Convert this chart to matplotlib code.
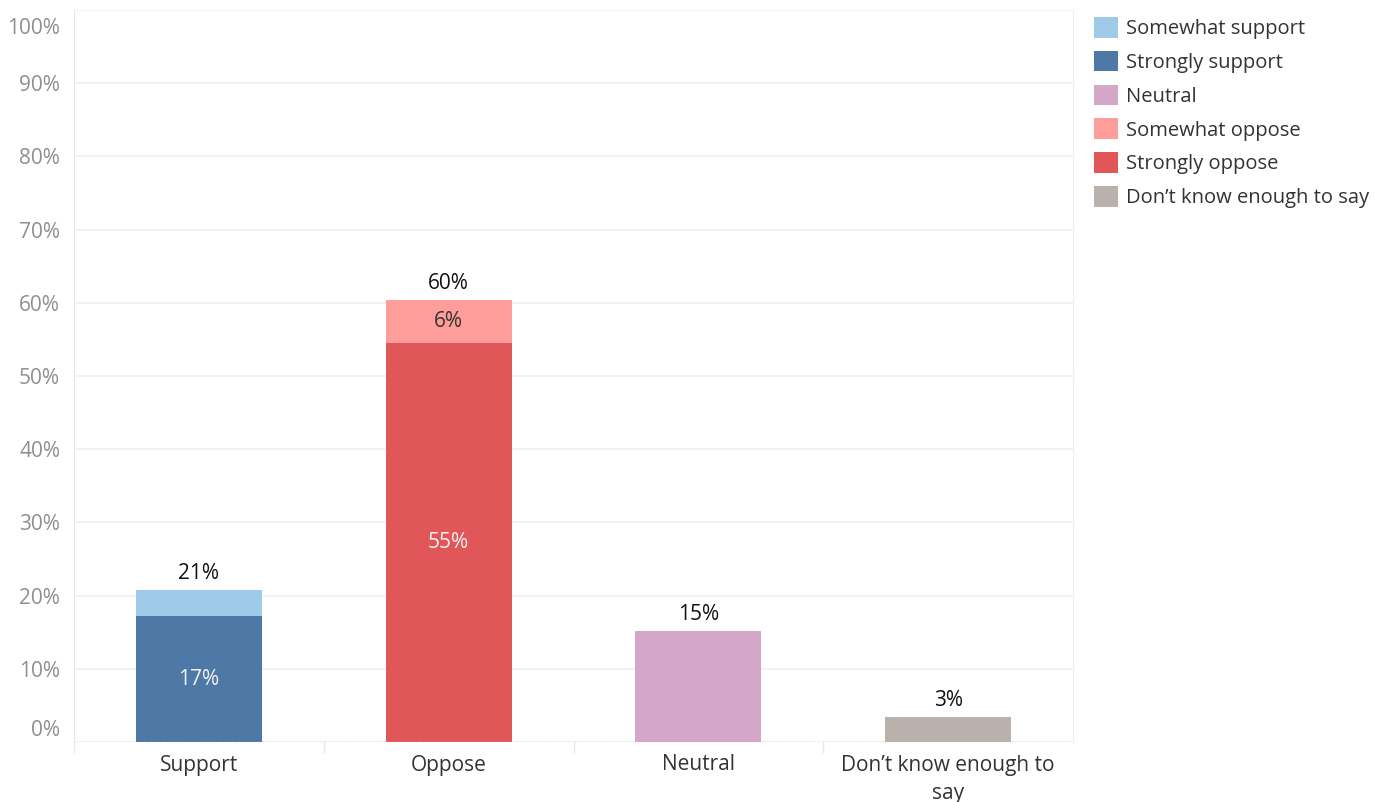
import matplotlib.pyplot as plt
import matplotlib.transforms as mtransforms
from matplotlib.patches import Patch

categories = ['Support', 'Oppose', 'Neutral', 'Don\u2019t know enough to\nsay']
strong = [17.2, 54.5, 15.2, 3.4]
somewhat = [3.6, 5.9, 0, 0]
totals = [21, 60, 15, 3]
inner_labels = ['17%', '55%', None, None]
somewhat_labels = [None, '6%', None, None]

base_colors = ['#4e79a7', '#e15759', '#d4a6c8', '#bab0ac']
light_colors = ['#a0cbe8', '#ff9d9a', '#d4a6c8', '#bab0ac']

legend_labels = ['Somewhat support', 'Strongly support', 'Neutral',
                 'Somewhat oppose', 'Strongly oppose', 'Don\u2019t know enough to say']
legend_colors = ['#a0cbe8', '#4e79a7', '#d4a6c8', '#ff9d9a', '#e15759', '#bab0ac']

plt.rcParams['font.family'] = ['Open Sans', 'DejaVu Sans']
FS = 15

fig = plt.figure(figsize=(13.75, 8.02), dpi=100)
ax = fig.add_axes([74 / 1375, 60 / 802, 999 / 1375, 732 / 802])

x = list(range(len(categories)))
ax.bar(x, strong, width=0.505, color=base_colors, zorder=3)
ax.bar(x, somewhat, width=0.505, bottom=strong, color=light_colors, zorder=3)

for i in x:
    ax.text(i, strong[i] + somewhat[i] + 0.8, f"{totals[i]}%", ha='center', va='bottom',
            fontsize=FS, color='#111111', zorder=4)
    if inner_labels[i]:
        ax.text(i, strong[i] / 2, inner_labels[i], ha='center', va='center',
                fontsize=FS, color='#f2f2f2', zorder=4)
    if somewhat_labels[i]:
        ax.text(i, strong[i] + somewhat[i] / 2, somewhat_labels[i], ha='center', va='center',
                fontsize=FS, color='#333333', zorder=4)

ax.set_xlim(-0.5, 3.5)
ax.set_ylim(0, 100)
yt = list(range(0, 101, 10))
ax.set_yticks(yt)
ax.set_yticklabels([f"{v}%" for v in yt])
ax.tick_params(axis='y', length=0, pad=10, labelsize=FS, labelcolor='#8f8f8f')
ax.set_xticks(x)
ax.set_xticklabels(categories)
ax.tick_params(axis='x', length=0, pad=9, labelsize=FS, labelcolor='#333333')
for lab in ax.get_xticklabels():
    lab.set_linespacing(1.45)

# shift first/last y labels inward like the original
labs = ax.get_yticklabels()
labs[0].set_transform(labs[0].get_transform() + mtransforms.ScaledTranslation(0, 14 / 100, fig.dpi_scale_trans))
labs[-1].set_transform(labs[-1].get_transform() + mtransforms.ScaledTranslation(0, -16 / 100, fig.dpi_scale_trans))

ax.grid(axis='y', color='#f0f0f0', linewidth=1.2, zorder=0)
ax.axhline(0, color='#c8c8c8', linestyle=(0, (3, 2)), linewidth=0.9, zorder=5)
for s in ['top', 'bottom']:
    ax.spines[s].set_visible(False)
ax.spines['left'].set_color('#e6e6e6')
ax.spines['right'].set_color('#eeeeee')

# category separators below the axis
for b in [-0.5, 0.5, 1.5, 2.5]:
    ax.plot([b, b], [0, -1.4], color='#e6e6e6', linewidth=1, clip_on=False)

handles = [Patch(facecolor=c, edgecolor='none') for c in legend_colors]
fig.legend(handles, legend_labels, loc='upper left', bbox_to_anchor=(1094 / 1375, 1 - 17 / 802),
           frameon=False, fontsize=14.5, labelcolor='#333333', handlelength=1.2, handleheight=1.2,
           handletextpad=0.4, labelspacing=0.58, borderaxespad=0, borderpad=0)

fig.savefig('out.png', dpi=100, facecolor='white')
